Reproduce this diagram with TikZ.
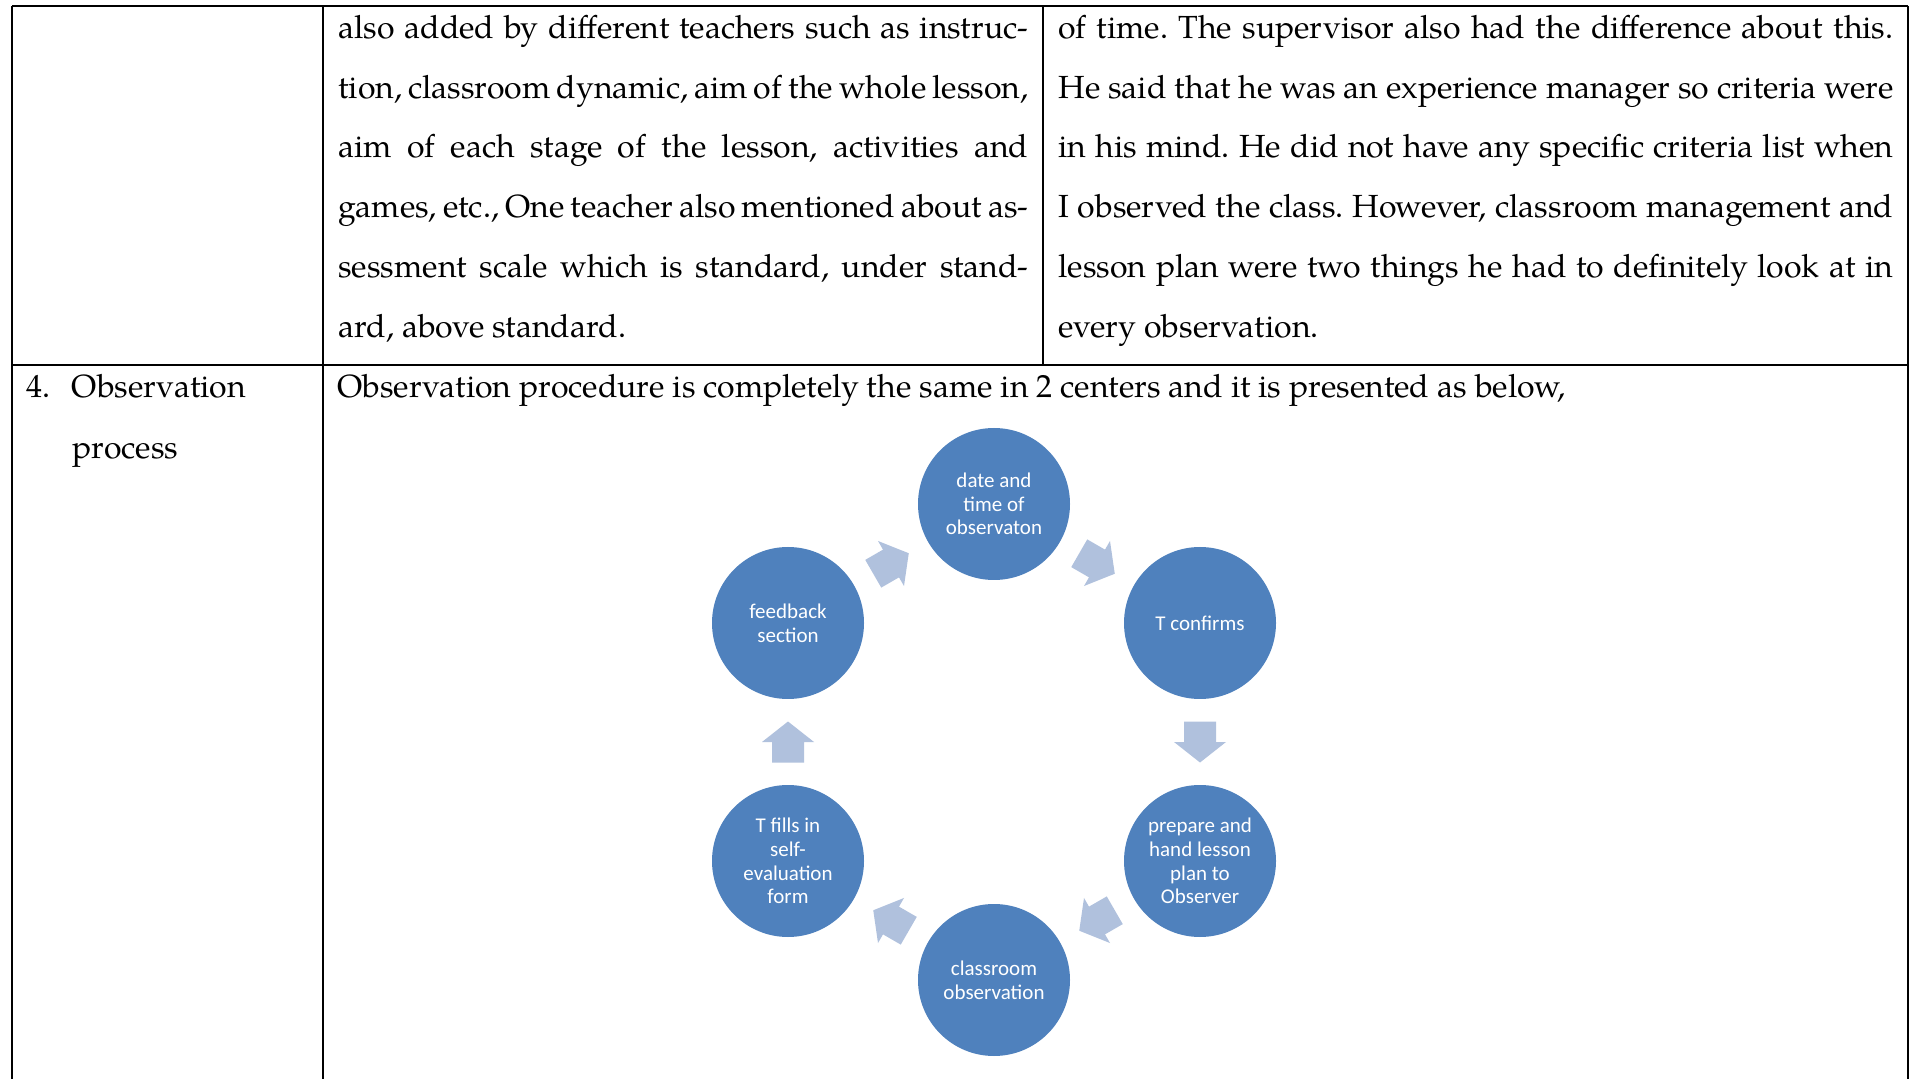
\documentclass[tikz,border=0pt]{standalone}
\usepackage{fontspec}
\newfontfamily\pal{TeX Gyre Pagella}
\newfontfamily\carl{Carlito}
\usetikzlibrary{calc}
\frenchspacing
\definecolor{circblue}{RGB}{79,129,189}
\definecolor{arrblue}{RGB}{176,193,221}
\tikzset{
  rule/.style={line width=1pt, draw=black},
  txt/.style={inner sep=0pt, anchor=base west, font=\pal\fontsize{16}{20}\selectfont},
  stage/.style={circle, fill=circblue, draw=none, minimum size=76pt, inner sep=0pt,
    text=white, align=center, font=\carl\fontsize{10.5}{11.8}\selectfont},
  blockarrow/.pic={\fill[arrblue] (-20.5,-16) -- (0,-16) -- (0,-26) -- (20.5,0) -- (0,26) -- (0,16) -- (-20.5,16) -- cycle;}
}
\newcommand\jla[1]{\makebox[345pt][s]{#1}}
\newcommand\jlb[1]{\makebox[417.5pt][s]{#1}}
\begin{document}
\begin{tikzpicture}[x=0.5pt,y=0.5pt]
\useasboundingbox (0,0) rectangle (1912,-1079);
\fill[white] (0,0) rectangle (1912,-1079);
% table rules
\draw[rule] (12,-6) -- (1908,-6);
\draw[rule] (12,-6) -- (12,-1079);
\draw[rule] (1908,-6) -- (1908,-1079);
\draw[rule] (323,-6) -- (323,-1079);
\draw[rule] (1043,-6) -- (1043,-365);
\draw[rule] (12,-365) -- (1908,-365);
% row 1, column 2
\node[txt] (a1) at (338,-38.4) {\jla{also added by different teachers such as instruc-}};
\node[txt] (a2) at (338,-98.2) {\jla{tion, classroom dynamic, aim of the whole lesson,}};
\node[txt] (a3) at (338,-158) {\jla{aim of each stage of the lesson, activities and}};
\node[txt] (a4) at (338,-217.8) {\jla{games, etc., One teacher also mentioned about as-}};
\node[txt] (a5) at (338,-277.6) {\jla{sessment scale which is standard, under stand-}};
\node[txt] (a6) at (338,-337.4) {ard, above standard.};
% row 1, column 3
\node[txt] (b1) at (1058,-38.4) {\jlb{of time. The supervisor also had the difference about this.}};
\node[txt] (b2) at (1058,-98.2) {\jlb{He said that he was an experience manager so criteria were}};
\node[txt] (b3) at (1058,-158) {\jlb{in his mind. He did not have any specific criteria list when}};
\node[txt] (b4) at (1058,-217.8) {\jlb{I observed the class. However, classroom management and}};
\node[txt] (b5) at (1058,-277.6) {\jlb{lesson plan were two things he had to definitely look at in}};
\node[txt] (b6) at (1058,-337.4) {every observation.};
% row 2
\node[txt] (n4) at (26,-397.7) {4.};
\node[txt] (h1) at (71.5,-397.7) {Observation};
\node[txt] (h2) at (72,-458.2) {process};
\node[txt] (p1) at (337,-397.7) {Observation procedure is completely the same in 2 centers and it is presented as below,};
% cycle
\node[stage] (date) at (994,-504) {date and\\time of\\observaton};
\node[stage] (conf) at (1200,-623) {T confirms};
\node[stage] (prep) at (1200,-861) {prepare and\\hand lesson\\plan to\\Observer};
\node[stage] (obs) at (994,-980) {classroom\\observation};
\node[stage] (self) at (788,-861) {T fills in\\self-\\evaluation\\form};
\node[stage] (feed) at (788,-623) {feedback\\section};
\pic[rotate=-30] at ($(date)!0.5!(conf)$) {blockarrow};
\pic[rotate=-90] at ($(conf)!0.5!(prep)$) {blockarrow};
\pic[rotate=210] at ($(prep)!0.5!(obs)$) {blockarrow};
\pic[rotate=150] at ($(obs)!0.5!(self)$) {blockarrow};
\pic[rotate=90] at ($(self)!0.5!(feed)$) {blockarrow};
\pic[rotate=30] at ($(feed)!0.5!(date)$) {blockarrow};
\end{tikzpicture}
\end{document}
